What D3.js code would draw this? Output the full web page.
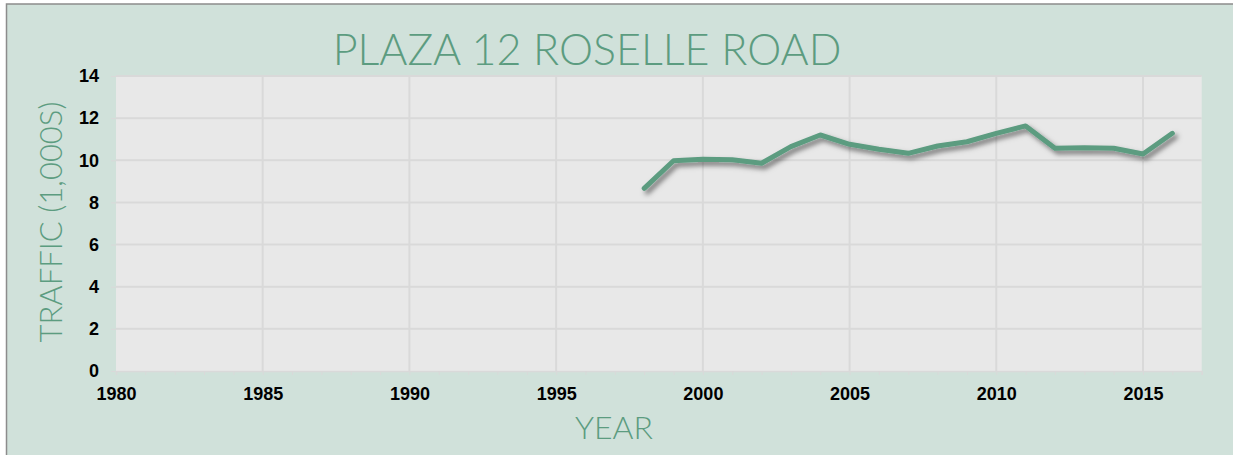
<!DOCTYPE html>
<html>
<head>
<meta charset="utf-8">
<script src="https://cdn.jsdelivr.net/npm/d3@7"></script>
<style>
  body { margin: 0; background: #ffffff; }
</style>
</head>
<body>
<div class="chart"></div>
<script>
// traffic counts, thousands of vehicles per day
const years = [1998, 1999, 2000, 2001, 2002, 2003, 2004, 2005, 2006, 2007,
               2008, 2009, 2010, 2011, 2012, 2013, 2014, 2015, 2016];
const traffic = [8.67, 9.98, 10.05, 10.03, 9.86, 10.65, 11.2, 10.76, 10.52, 10.33,
                 10.68, 10.88, 11.28, 11.63, 10.57, 10.6, 10.57, 10.3, 11.28];
const xTicks = [1980, 1985, 1990, 1995, 2000, 2005, 2010, 2015];
const yTicks = [0, 2, 4, 6, 8, 10, 12, 14];

const data = years.map((y, i) => ({ year: y, value: traffic[i] }));

const green = "#5c9c80";

const svg = d3.select(".chart")
    .append("svg")
    .attr("width", 1233)
    .attr("height", 455);

// chart background + border (chart runs off the right/bottom edge)
svg.append("rect")
    .attr("x", 6.5).attr("y", 4)
    .attr("width", 1240).attr("height", 460)
    .attr("fill", "#d0e1da")
    .attr("stroke", "#8c8c8c")
    .attr("stroke-width", 1.5);

const plot = { left: 116, right: 1201.7, top: 76, bottom: 371 };

const x = d3.scaleLinear()
    .domain([1980, 2017])
    .range([plot.left, plot.right]);

const y = d3.scaleLinear()
    .domain([0, 14])
    .range([plot.bottom, plot.top]);

svg.append("rect")
    .attr("x", plot.left).attr("y", plot.top)
    .attr("width", plot.right - plot.left)
    .attr("height", plot.bottom - plot.top)
    .attr("fill", "#e8e8e8");

// gridlines
svg.append("g")
    .selectAll("line")
    .data(yTicks.slice(1))
    .join("line")
        .attr("x1", plot.left).attr("x2", plot.right)
        .attr("y1", d => y(d)).attr("y2", d => y(d))
        .attr("stroke", "#d9d9d9")
        .attr("stroke-width", 2);

svg.append("g")
    .selectAll("line")
    .data(xTicks.slice(1))
    .join("line")
        .attr("x1", d => x(d)).attr("x2", d => x(d))
        .attr("y1", plot.top).attr("y2", plot.bottom)
        .attr("stroke", "#d9d9d9")
        .attr("stroke-width", 2);

// x axis: minor ticks every year, labels every 5
const xAxis = svg.append("g")
    .attr("transform", `translate(0, ${plot.bottom})`)
    .call(d3.axisBottom(x)
        .tickValues(d3.range(1980, 2018))
        .tickSize(4)
        .tickFormat(d => xTicks.includes(d) ? d : ""));

xAxis.select(".domain").attr("stroke", "#d9d9d9").attr("stroke-width", 1.5);
xAxis.selectAll(".tick line").attr("stroke", "#d9d9d9");
xAxis.selectAll("text")
    .attr("y", 16)
    .attr("fill", "#000")
    .attr("font-size", "18px")
    .attr("font-weight", "bold")
    .attr("font-family", "Liberation Sans, Arial, sans-serif");

const yAxis = svg.append("g")
    .attr("transform", `translate(${plot.left}, 0)`)
    .call(d3.axisLeft(y)
        .tickValues(yTicks)
        .tickSize(5)
        .tickPadding(12));

yAxis.select(".domain").remove();
yAxis.selectAll(".tick line").attr("stroke", "#d9d9d9");
yAxis.selectAll("text")
    .attr("fill", "#000")
    .attr("font-size", "18px")
    .attr("font-weight", "bold")
    .attr("font-family", "Liberation Sans, Arial, sans-serif");

// line with soft drop shadow
const defs = svg.append("defs");
const shadow = defs.append("filter")
    .attr("id", "shadow")
    .attr("x", "-5%").attr("y", "-50%")
    .attr("width", "110%").attr("height", "200%");
shadow.append("feDropShadow")
    .attr("dx", 3).attr("dy", 3.5)
    .attr("stdDeviation", 2.5)
    .attr("flood-color", "#000")
    .attr("flood-opacity", 0.5);

const line = d3.line()
    .x(d => x(d.year))
    .y(d => y(d.value));

svg.append("path")
    .datum(data)
    .attr("d", line)
    .attr("fill", "none")
    .attr("stroke", green)
    .attr("stroke-width", 5)
    .attr("stroke-linejoin", "round")
    .attr("stroke-linecap", "round")
    .attr("filter", "url(#shadow)");

// titles
svg.append("text")
    .text("PLAZA 12 ROSELLE ROAD")
    .attr("x", 587)
    .attr("y", 65)
    .attr("text-anchor", "middle")
    .attr("fill", green)
    .attr("font-size", "43px")
    .attr("font-weight", 300)
    .attr("font-family", "Lato, 'Open Sans', sans-serif");

svg.append("text")
    .text("YEAR")
    .attr("x", 614)
    .attr("y", 439)
    .attr("text-anchor", "middle")
    .attr("fill", green)
    .attr("font-size", "32px")
    .attr("font-weight", 300)
    .attr("font-family", "Lato, 'Open Sans', sans-serif");

svg.append("text")
    .text("TRAFFIC (1,000S)")
    .attr("transform", "translate(62, 222) rotate(-90)")
    .attr("text-anchor", "middle")
    .attr("fill", green)
    .attr("font-size", "31px")
    .attr("font-weight", 300)
    .attr("font-family", "Lato, 'Open Sans', sans-serif");
</script>
</body>
</html>
